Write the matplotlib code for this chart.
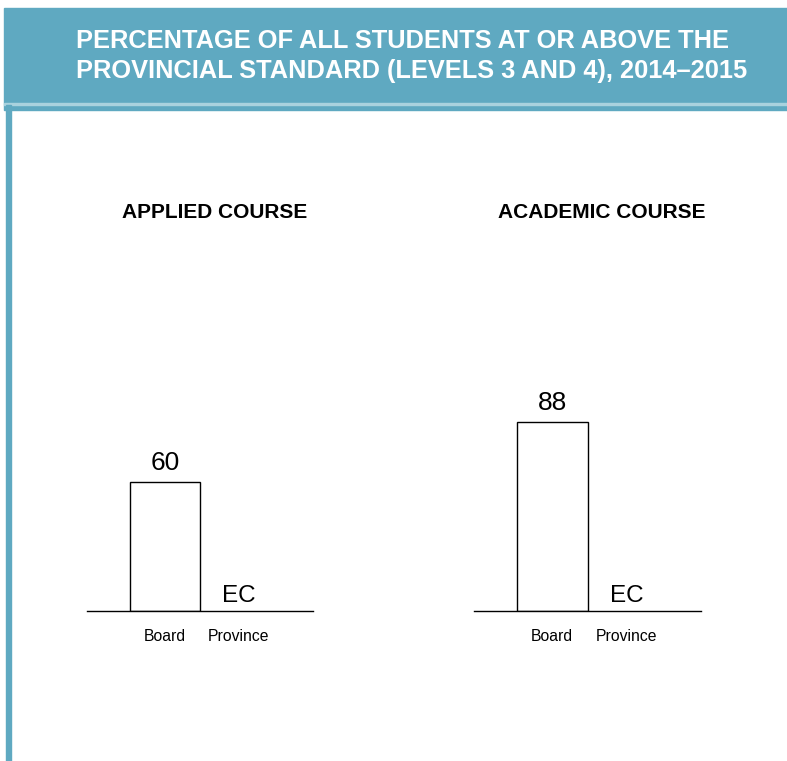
import matplotlib.pyplot as plt
from matplotlib.patches import Rectangle

plt.rcParams['font.family'] = ['Liberation Sans', 'DejaVu Sans']

# chart data
title = "PERCENTAGE OF ALL STUDENTS AT OR ABOVE THE\nPROVINCIAL STANDARD (LEVELS 3 AND 4), 2014\u20132015"
panels = ["APPLIED COURSE", "ACADEMIC COURSE"]
groups = ["Board", "Province"]
board_values = [60, 88]
province_values = [None, None]   # not reported -> "EC"
missing_label = "EC"

teal = "#5fa9c1"
W, H = 787, 761

fig = plt.figure(figsize=(W / 100, H / 100), dpi=100)

# header band and left border (pixel coords converted to figure fractions)
def px_rect(x0, y0, x1, y1, color):
    fig.patches.append(Rectangle((x0 / W, 1 - y1 / H), (x1 - x0) / W, (y1 - y0) / H,
                                 transform=fig.transFigure, color=color, zorder=0))

px_rect(4, 8, W, 110, teal)
px_rect(4, 103.5, W, 105, "#a9d2de")
px_rect(6, 105, 11, H, teal)

fig.text(76 / W, 1 - 56 / H, title, color="white", fontsize=18.3, fontweight="bold",
         ha="left", va="center", linespacing=1.33)

# axes layout in pixels: left, right
ax_spans = [(87, 313), (474, 701)]
subtitle_x = [215, 602]
base_y, top_y = 611, 396

for i, (x0, x1) in enumerate(ax_spans):
    ax = fig.add_axes([x0 / W, 1 - base_y / H, (x1 - x0) / W, (base_y - top_y) / H])
    ax.set_xlim(-1.05, 2.0)
    ax.set_ylim(0, 100)
    ax.bar([0], [board_values[i]], width=0.95, facecolor="white", edgecolor="black", linewidth=1.0)
    ax.axhline(0, color="black", linewidth=1.0, clip_on=False)

    ax.annotate(str(board_values[i]), (0, board_values[i]), xytext=(0, 5), textcoords="offset points",
                ha="center", va="bottom", fontsize=19)
    pv = province_values[i]
    ax.annotate(missing_label if pv is None else str(pv), (1, 0 if pv is None else pv),
                xytext=(0, 3), textcoords="offset points", ha="center", va="bottom", fontsize=17.5)

    ax.set_xticks([0, 1])
    ax.set_xticklabels(groups, fontsize=11.3)
    ax.tick_params(axis="x", length=0, pad=13)
    ax.set_yticks([])
    for s in ax.spines.values():
        s.set_visible(False)
    ax.patch.set_alpha(0)

    fig.text(subtitle_x[i] / W, 1 - 212 / H, panels[i], fontsize=15, fontweight="bold",
             ha="center", va="center")

fig.savefig("out.png", dpi=100)
